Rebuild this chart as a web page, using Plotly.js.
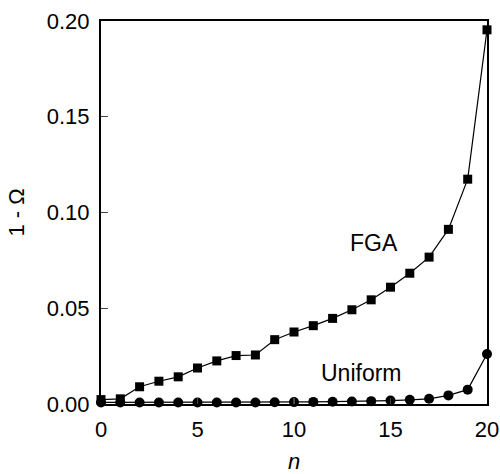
<!DOCTYPE html>
<html>
<head>
<meta charset="utf-8">
<script src="https://cdn.plot.ly/plotly-3.0.1.min.js"></script>
<style>html,body{margin:0;padding:0;background:#fff;}#plot{width:500px;height:474px;}</style>
</head>
<body>
<div id="plot"></div>
<script>
var n = [0,1,2,3,4,5,6,7,8,9,10,11,12,13,14,15,16,17,18,19,20];
var fga = [0.0023,0.0027,0.0090,0.0119,0.0142,0.0188,0.0225,0.0253,0.0256,0.0336,0.0376,0.0409,0.0447,0.0492,0.0544,0.0610,0.0683,0.0767,0.0912,0.1174,0.1954];
var uniform = [0.0008,0.0008,0.0008,0.0008,0.0008,0.0008,0.0008,0.0008,0.0008,0.0009,0.0010,0.0011,0.0012,0.0013,0.0015,0.0018,0.0022,0.0027,0.0045,0.0075,0.0261];
var xTicks = [0,5,10,15,20];
var yTicks = [0,0.05,0.10,0.15,0.20];
var yTickText = ['0.00','0.05','0.10','0.15','0.20'];
var labels = [{text:'FGA', x:14.15, y:0.084}, {text:'Uniform', x:13.5, y:0.0164}];

var traces = [
  {x:n, y:fga, mode:'lines+markers', type:'scatter', cliponaxis:false,
   line:{color:'#000', width:1.2}, marker:{symbol:'square', size:9, color:'#000'}},
  {x:n, y:uniform, mode:'lines+markers', type:'scatter', cliponaxis:false,
   line:{color:'#000', width:1.2}, marker:{symbol:'circle', size:10, color:'#000'}}
];
var font = {family:'Liberation Sans, Arial, sans-serif', size:22, color:'#000'};
var annFont = {family:'Liberation Sans, Arial, sans-serif', size:23, color:'#000'};
var layout = {
  width:500, height:474,
  margin:{l:101, r:13, t:21, b:70},
  paper_bgcolor:'#fff', plot_bgcolor:'#fff',
  showlegend:false,
  font:font,
  xaxis:{range:[0,20], tickvals:xTicks, ticktext:xTicks.map(String), ticks:'inside', ticklen:6, tickwidth:1.2,
         ticklabelstandoff:5,
         showgrid:false, zeroline:false, showline:true, linewidth:2, linecolor:'#000', mirror:true,
         tickfont:font, title:{text:'<i>n</i>', font:font, standoff:16}},
  yaxis:{range:[0,0.2], tickvals:yTicks, ticktext:yTickText, ticks:'inside', ticklen:7, tickwidth:1.2,
         ticklabelstandoff:5,
         showgrid:false, zeroline:false, showline:true, linewidth:2, linecolor:'#000', mirror:true,
         tickfont:font, title:{text:'1 - Ω', font:font, standoff:16}},
  annotations: labels.map(function(l){return {text:l.text, x:l.x, y:l.y, xref:'x', yref:'y', showarrow:false, font:annFont};})
};
Plotly.newPlot('plot', traces, layout, {displayModeBar:false, staticPlot:true});
</script>
</body>
</html>
